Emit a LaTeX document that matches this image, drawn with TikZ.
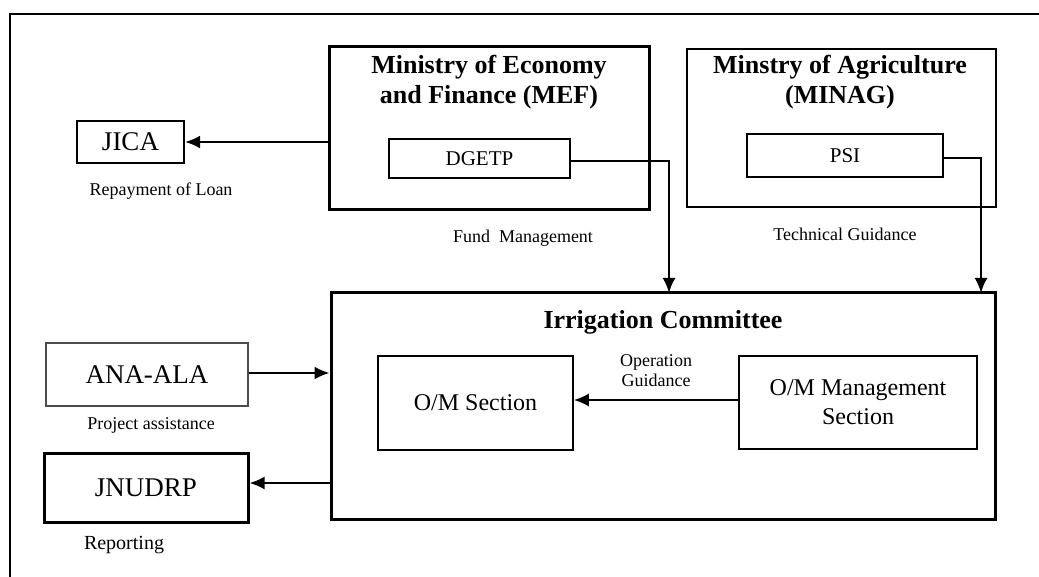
\documentclass[tikz,border=0pt]{standalone}
\usepackage{fontspec}
\setmainfont{Liberation Serif}
\usetikzlibrary{arrows.meta}
\begin{document}
\begin{tikzpicture}[x=1pt,y=-1pt,
  thickbox/.style={draw, line width=3pt, inner sep=0pt},
  medbox/.style={draw, line width=2.2pt, inner sep=0pt},
  thinbox/.style={draw, line width=1.5pt, inner sep=0pt},
  titletext/.style={font=\fontsize{26}{30}\selectfont\bfseries, align=center, inner sep=0pt},
  labeltext/.style={font=\fontsize{18}{20}\selectfont, align=center, inner sep=0pt},
  arr/.style={line width=2.2pt, -{Latex[length=15pt,width=13pt]}}]
\useasboundingbox (0,0) rectangle (1039,577);
% frame
\draw[line width=1.8pt] (10,577) -- (10,14) -- (1039,14);
% MEF
\node[thickbox, minimum width=320pt, minimum height=163pt] (mef) at (489,128.5) {};
\node[titletext] (meft) at (489,82) {Ministry of Economy\\and Finance (MEF)};
\node[thinbox, minimum width=181pt, minimum height=39pt, font=\fontsize{21}{24}\selectfont] (dgetp) at (479.5,158.5) {DGETP};
% MINAG
\node[thinbox, minimum width=309pt, minimum height=158pt] (minag) at (841.5,128) {};
\node[titletext] (minagt) at (840,82) {Minstry of Agriculture\\(MINAG)};
\node[thinbox, minimum width=196pt, minimum height=43pt, font=\fontsize{21}{24}\selectfont] (psi) at (845,155.5) {PSI};
% JICA
\node[medbox, minimum width=107pt, minimum height=42pt, font=\fontsize{27}{30}\selectfont] (jica) at (130.5,142) {JICA};
\node[labeltext] (repay) at (161,191) {Repayment of Loan};
\node[labeltext] (fund) at (523,238) {Fund\ \ Management};
\node[labeltext] (tech) at (845,234) {Technical Guidance};
% Irrigation committee
\node[thickbox, minimum width=664pt, minimum height=226pt] (ic) at (663,406) {};
\node[titletext] (ict) at (663,322) {Irrigation Committee};
\node[thinbox, minimum width=195pt, minimum height=94pt, font=\fontsize{24}{29}\selectfont] (oms) at (475.5,403) {O/M Section};
\node[thinbox, minimum width=238pt, minimum height=93pt, font=\fontsize{24}{29}\selectfont, align=center] (omm) at (858,402.5) {O/M Management\\Section};
\node[labeltext, font=\fontsize{18}{20}\selectfont] (opg) at (656,371) {Operation\\Guidance};
% ANA-ALA, JNUDRP
\node[thinbox, draw=black!70, minimum width=202pt, minimum height=63pt, font=\fontsize{27}{30}\selectfont] (ana) at (147,374.5) {ANA-ALA};
\node[labeltext] (proj) at (151,425) {Project assistance};
\node[thickbox, minimum width=204pt, minimum height=69pt, font=\fontsize{27}{30}\selectfont] (jnu) at (146,487.5) {JNUDRP};
\node[labeltext, font=\fontsize{20}{22}\selectfont] (rep) at (124,545) {Reporting};
% connectors
\coordinate (d1) at (669,293);
\coordinate (p1) at (981,293);
\draw[arr] (mef.west |- jica.east) -- (jica.east);
\draw[arr] (dgetp.east |- 0,161) -| (d1);
\draw[arr] (psi.east |- 0,158) -| (p1);
\draw[arr] (ana.east |- 0,373) -- (ic.west |- 0,373);
\draw[arr] (ic.west |- 0,483) -- (jnu.east |- 0,483);
\draw[arr] (omm.west |- 0,400) -- (oms.east |- 0,400);
\end{tikzpicture}
\end{document}
